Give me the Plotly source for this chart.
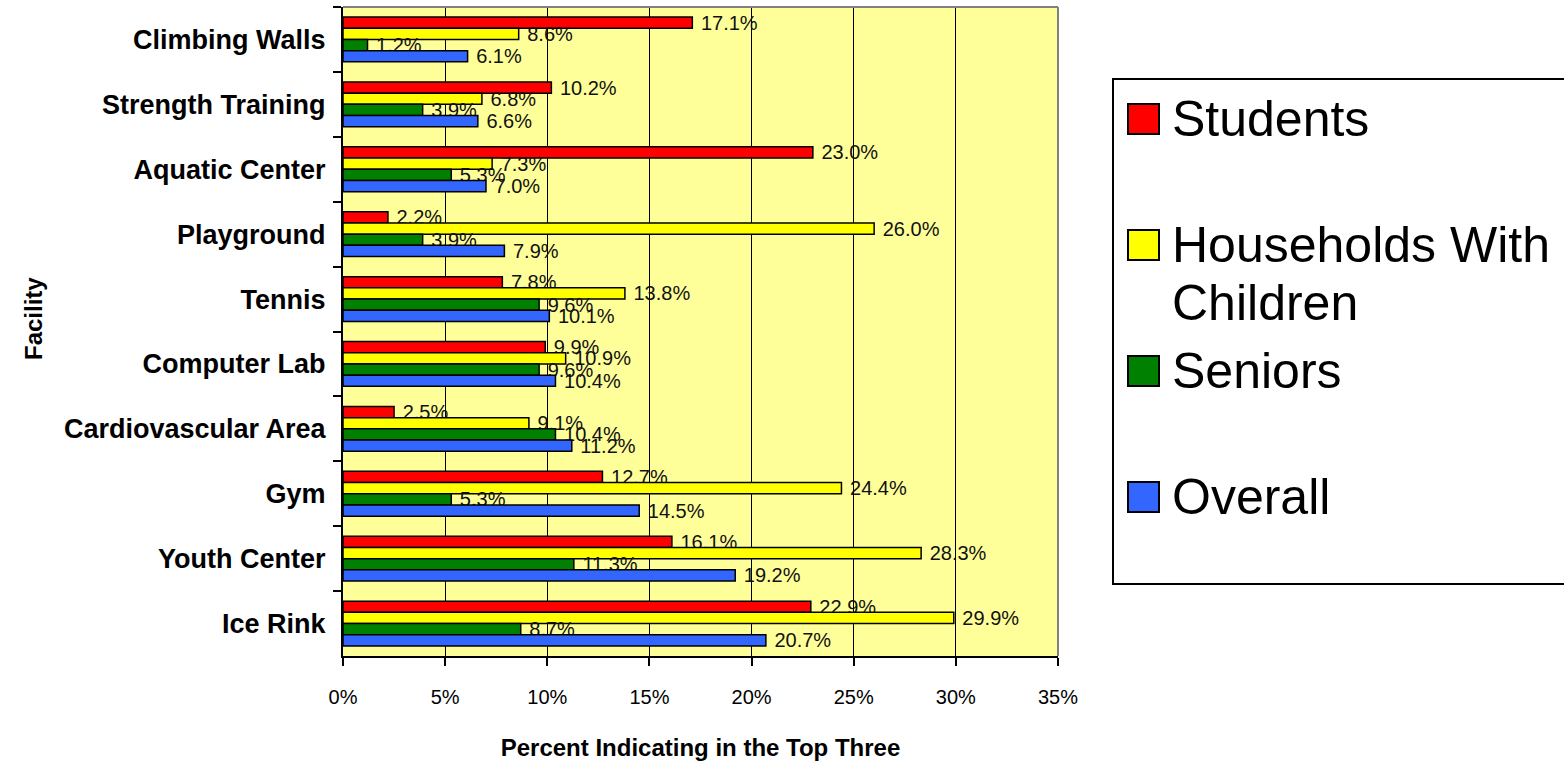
import plotly.graph_objects as go

# Facilities, listed top to bottom
facilities = [
    "Climbing Walls", "Strength Training", "Aquatic Center", "Playground",
    "Tennis", "Computer Lab", "Cardiovascular Area", "Gym", "Youth Center",
    "Ice Rink",
]

# Percent of each group ranking the facility in its top three
students = [17.1, 10.2, 23.0, 2.2, 7.8, 9.9, 2.5, 12.7, 16.1, 22.9]
households = [8.6, 6.8, 7.3, 26.0, 13.8, 10.9, 9.1, 24.4, 28.3, 29.9]
seniors = [1.2, 3.9, 5.3, 3.9, 9.6, 9.6, 10.4, 5.3, 11.3, 8.7]
overall = [6.1, 6.6, 7.0, 7.9, 10.1, 10.4, 11.2, 14.5, 19.2, 20.7]

series_names = ["Students", "Households With Children", "Seniors", "Overall"]
series_values = [students, households, seniors, overall]
series_colors = ["#FF0000", "#FFFF00", "#008000", "#3366FF"]

x_ticks = [0, 5, 10, 15, 20, 25, 30, 35]

W, H = 1564, 769
ML, MR, MT, MB = 343, 506, 7, 113
PW, PH = W - ML - MR, H - MT - MB


def px_x(px):
    return (px - ML) / PW


def px_y(py):
    return (H - MB - py) / PH


FONT = "Liberation Sans, Arial, sans-serif"

fig = go.Figure()
for name, vals, color in zip(series_names, series_values, series_colors):
    fig.add_trace(go.Bar(
        name=name,
        y=facilities,
        x=vals,
        orientation="h",
        marker=dict(color=color, line=dict(color="black", width=1.5)),
        texttemplate="\u00a0%{x:.1f}%",
        textposition="outside",
        constraintext="none",
        cliponaxis=False,
        textfont=dict(family=FONT, size=20, color="#111111"),
        showlegend=False,
        hoverinfo="skip",
    ))

# Legend drawn as a framed key on the right
shapes = [
    dict(type="rect", xref="paper", yref="paper",
         x0=px_x(1113), x1=px_x(1800), y0=px_y(584), y1=px_y(79),
         line=dict(color="black", width=2), fillcolor="white", layer="below"),
    # grey top and right frame of the plot area
    dict(type="line", xref="paper", yref="paper", x0=0, x1=1, y0=1, y1=1,
         line=dict(color="#808080", width=2)),
    dict(type="line", xref="paper", yref="paper", x0=1, x1=1, y0=0, y1=1,
         line=dict(color="#808080", width=2)),
]
annotations = []
key_rows = [
    (119, ["Students"]),
    (245, ["Households With", "Children"]),
    (371, ["Seniors"]),
    (497, ["Overall"]),
]
for (cy, lines), color in zip(key_rows, series_colors):
    shapes.append(dict(type="rect", xref="paper", yref="paper",
                       x0=px_x(1128), x1=px_x(1159),
                       y0=px_y(cy + 15), y1=px_y(cy - 15),
                       line=dict(color="black", width=2), fillcolor=color))
    for i, line in enumerate(lines):
        annotations.append(dict(
            xref="paper", yref="paper", x=px_x(1170), y=px_y(cy + 58 * i),
            xanchor="left", yanchor="middle", showarrow=False, text=line,
            font=dict(family=FONT, size=50, color="black"),
        ))

# Vertical axis title
annotations.append(dict(
    xref="paper", yref="paper", x=px_x(33), y=px_y(319),
    xanchor="center", yanchor="middle", showarrow=False, textangle=-90,
    text="Facility",
    font=dict(family=FONT, size=24, color="black", weight="bold"),
))

fig.update_layout(
    width=W, height=H,
    margin=dict(l=ML, r=MR, t=MT, b=MB, pad=0),
    paper_bgcolor="white",
    plot_bgcolor="#FFFF99",
    barmode="group",
    bargap=0.31,
    bargroupgap=0,
    font=dict(family=FONT, color="black"),
    shapes=shapes,
    annotations=annotations,
    xaxis=dict(
        range=[0, 35],
        tickvals=x_ticks,
        ticktext=[f"{v}%" for v in x_ticks],
        showgrid=True, gridcolor="black", gridwidth=1,
        zeroline=False,
        showline=True, linecolor="black", linewidth=2,
        ticks="outside", ticklen=8, tickwidth=2, tickcolor="black",
        tickfont=dict(family=FONT, size=20, color="black"),
        ticklabelstandoff=14,
        title=dict(text="Percent Indicating in the Top Three",
                   font=dict(family=FONT, size=24, color="black", weight="bold"),
                   standoff=32),
    ),
    yaxis=dict(
        type="category",
        categoryorder="array",
        categoryarray=facilities,
        autorange="reversed",
        showgrid=False,
        showline=True, linecolor="black", linewidth=2,
        ticks="outside", ticklen=8, tickwidth=2, tickcolor="black",
        tickson="boundaries",
        tickfont=dict(family=FONT, size=27, color="black", weight="bold"),
        ticklabelstandoff=10,
    ),
)

fig.write_html("out.html")
